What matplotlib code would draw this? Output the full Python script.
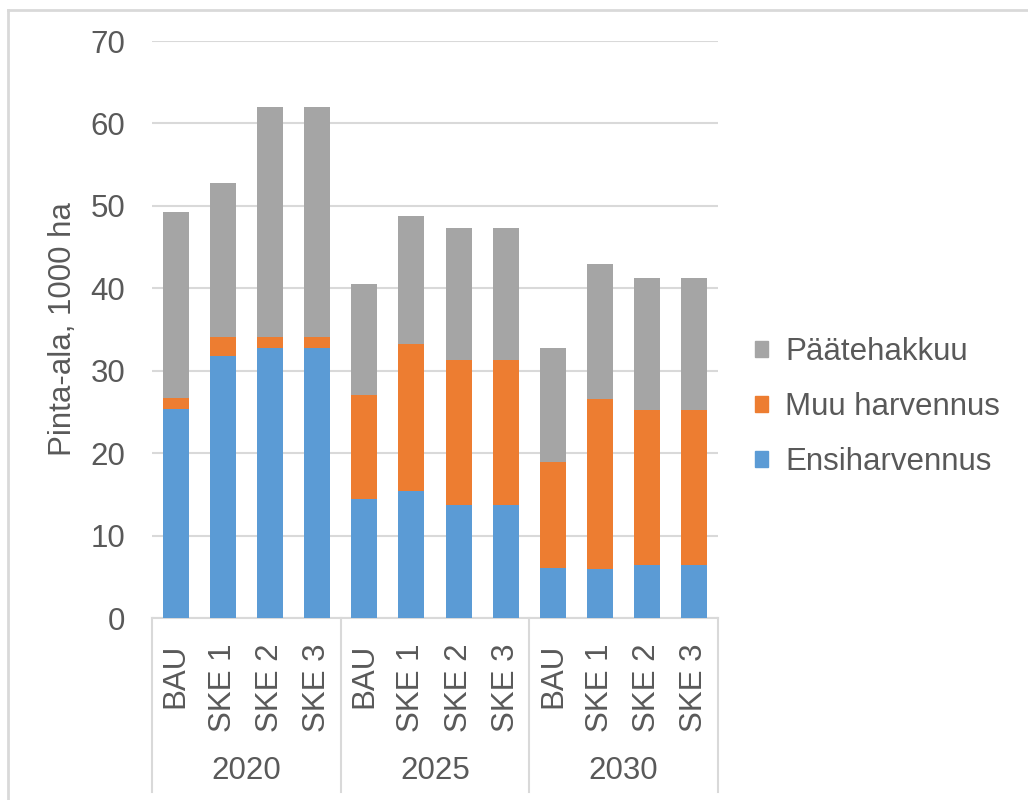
import matplotlib
matplotlib.use("Agg")
import matplotlib.pyplot as plt
from matplotlib.patches import Patch
from matplotlib.lines import Line2D
import matplotlib.transforms as mtransforms
import numpy as np

plt.rcParams['font.family'] = ['Liberation Sans', 'DejaVu Sans']

years = ["2020", "2025", "2030"]
scenarios = ["BAU", "SKE 1", "SKE 2", "SKE 3"]
ensiharvennus = [25.4, 31.8, 32.8, 32.8, 14.4, 15.4, 13.7, 13.7, 6.1, 5.9, 6.4, 6.4]
muu_harvennus = [1.3, 2.3, 1.3, 1.3, 12.7, 17.9, 17.6, 17.6, 12.8, 20.7, 18.8, 18.8]
paatehakkuu = [22.5, 18.7, 27.9, 27.9, 13.4, 15.5, 16.0, 16.0, 13.9, 16.3, 16.1, 16.1]
series_names = ["Ensiharvennus", "Muu harvennus", "Päätehakkuu"]
colors = ["#5B9BD5", "#ED7D31", "#A5A5A5"]
y_ticks = [0, 10, 20, 30, 40, 50, 60, 70]

FS = 22.5
TXT = "#595959"
W, H = 1028, 800
fig = plt.figure(figsize=(W / 100, H / 100), dpi=100)
ax = fig.add_axes([152 / W, 1 - 618 / H, 566 / W, 577 / H])

n = len(years) * len(scenarios)
x = np.arange(n)
bottom = np.zeros(n)
for vals, name, c in zip([ensiharvennus, muu_harvennus, paatehakkuu], series_names, colors):
    ax.bar(x, vals, width=0.55, bottom=bottom, color=c, label=name, zorder=3)
    bottom += np.array(vals)

ax.set_xlim(-0.5, n - 0.5)
ax.set_ylim(0, 70)
ax.set_yticks(y_ticks)
ax.yaxis.grid(True, color="#D9D9D9", linewidth=1.5, zorder=0)
for s in ["top", "right", "left"]:
    ax.spines[s].set_visible(False)
ax.spines["bottom"].set_color("#D9D9D9")
ax.spines["bottom"].set_linewidth(1.5)
ax.tick_params(axis="y", length=0, pad=19.4, labelsize=FS, labelcolor=TXT)
ax.set_xticks(x)
ax.set_xticklabels(scenarios * len(years), rotation=90)
ax.tick_params(axis="x", length=0, pad=18.5, labelsize=FS, labelcolor=TXT)

ax.set_ylabel("Pinta-ala, 1000 ha", fontsize=FS, color=TXT)
ax.yaxis.set_label_coords(-0.131, 0.5)

trans = mtransforms.blended_transform_factory(ax.transData, ax.transAxes)
for b in range(len(years) + 1):
    xb = b * len(scenarios) - 0.5
    ax.add_line(Line2D([xb, xb], [0, -0.302], transform=trans, color="#D9D9D9",
                       linewidth=1.5, clip_on=False))
for i, yr in enumerate(years):
    xc = i * len(scenarios) + (len(scenarios) - 1) / 2
    ax.text(xc, -0.265, yr, transform=trans, ha="center", va="center",
            fontsize=FS, color=TXT)

handles = [Patch(color=c) for c in colors][::-1]
labels = series_names[::-1]
ax.legend(handles, labels, loc="center left", bbox_to_anchor=(1.016, 0.365),
          frameon=False, fontsize=FS, handlelength=0.42, handleheight=0.42,
          handletextpad=0.55, labelspacing=0.8, labelcolor=TXT)

# outer border (top and left)
fig.add_artist(Line2D([8 / W, 1], [1 - 10 / H, 1 - 10 / H], transform=fig.transFigure,
                      color="#D9D9D9", linewidth=2))
fig.add_artist(Line2D([8 / W, 8 / W], [0, 1 - 10 / H], transform=fig.transFigure,
                      color="#D9D9D9", linewidth=2))

fig.savefig("out.png", dpi=100, facecolor="white")
